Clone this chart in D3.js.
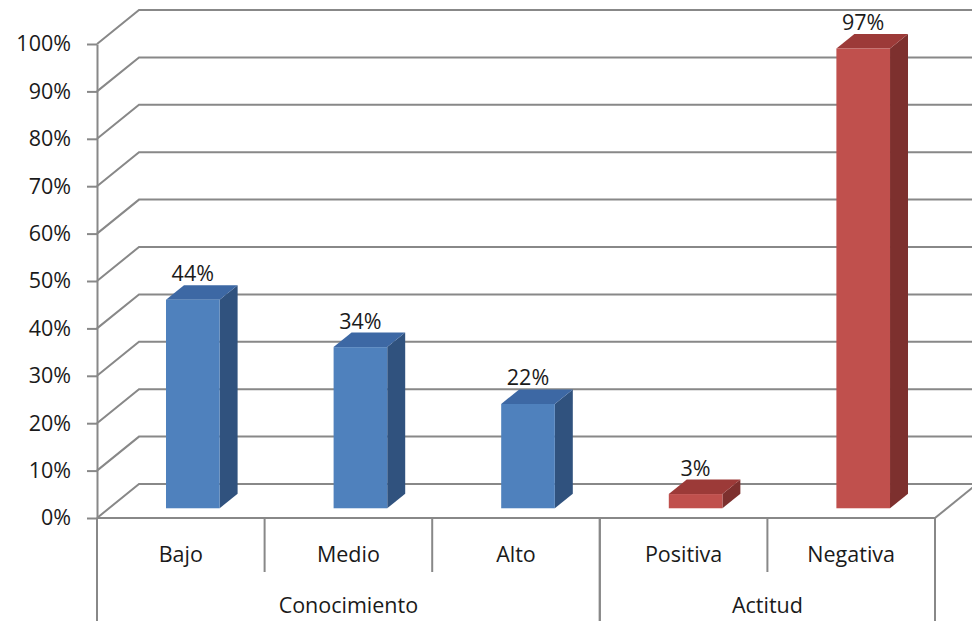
<!DOCTYPE html>
<html>
<head>
<meta charset="utf-8">
<script src="https://cdn.jsdelivr.net/npm/d3@7"></script>
<style>
  html, body { margin: 0; padding: 0; background: #fff; }
  svg { display: block; }
  text { font-family: "Open Sans", "Liberation Sans", sans-serif; fill: #1a1a1a; }
</style>
</head>
<body>
<svg id="chart" width="972" height="621"></svg>
<script>
// Survey results: knowledge level and attitude
const categories = ["Bajo", "Medio", "Alto", "Positiva", "Negativa"];
const groupNames = ["Conocimiento", "Actitud"];
const groupOfCategory = [0, 0, 0, 1, 1];
const values = [0.44, 0.34, 0.22, 0.03, 0.97];
const yTicks = [0, 0.1, 0.2, 0.3, 0.4, 0.5, 0.6, 0.7, 0.8, 0.9, 1.0];

// face colours per group: front, side, top
const palette = [
  { front: "#4F81BD", side: "#30527E", top: "#3D68A4" },
  { front: "#C0504D", side: "#7D302E", top: "#9C3A38" }
];

(function () {
  const svg = d3.select("#chart");
  const H = 621;
  const fontSize = 21.5;

  // plot frame (front plane) and oblique depth
  const plotLeft = 97, plotRight = 935, plotBottom = 518, plotTop = 44;
  const depthX = 42, depthY = 34;
  const gridColor = "#888888";

  const x = d3.scaleBand().domain(categories).range([plotLeft, plotRight]).paddingInner(0).paddingOuter(0);
  const y = d3.scaleLinear().domain([0, 1]).range([plotBottom, plotTop]);

  // projection of a depth fraction onto screen offset
  const dOff = f => [depthX * f, -depthY * f];

  // gridlines: diagonal along the side wall, then across the back wall
  const grid = svg.append("g").attr("fill", "none").attr("stroke", gridColor).attr("stroke-width", 2);
  const [bx, by] = dOff(1);
  yTicks.forEach(t => {
    grid.append("path")
      .attr("d", `M${plotLeft},${y(t)} L${plotLeft + bx},${y(t) + by} L${plotRight + bx},${y(t) + by}`);
  });

  // floor: front edge and right edge
  grid.append("path").attr("d", `M${plotLeft},${plotBottom} L${plotRight},${plotBottom}`);
  grid.append("path").attr("d", `M${plotRight},${plotBottom} L${plotRight + bx},${plotBottom + by}`);

  // value axis
  const yAxis = d3.axisLeft(y)
    .tickValues(yTicks)
    .tickFormat(d3.format(".0%"))
    .tickSize(10)
    .tickSizeOuter(0)
    .tickPadding(16);
  const yAxisG = svg.append("g").attr("transform", `translate(${plotLeft},0)`).call(yAxis);
  yAxisG.select(".domain").attr("stroke", gridColor).attr("stroke-width", 2);
  yAxisG.selectAll(".tick line").attr("stroke", gridColor).attr("stroke-width", 2);
  yAxisG.selectAll(".tick text")
    .attr("font-size", fontSize)
    .attr("font-family", "'Open Sans', 'Liberation Sans', sans-serif")
    .attr("fill", "#1a1a1a");

  // bars
  const barFrac = 0.32;
  const f1 = 0.286, f2 = 0.714;
  const bars = svg.append("g");
  categories.forEach((c, i) => {
    const col = palette[groupOfCategory[i]];
    const bw = x.bandwidth() * barFrac;
    const [ox, oy] = dOff(f1);
    const [ex, ey] = dOff(f2 - f1);
    const cx = x(c) + x.bandwidth() / 2 + ox;
    const x0 = cx - bw / 2, x1 = cx + bw / 2;
    const yb = y(0) + oy, yt = y(values[i]) + oy;

    bars.append("path").attr("fill", col.side)
      .attr("d", `M${x1},${yb} L${x1 + ex},${yb + ey} L${x1 + ex},${yt + ey} L${x1},${yt} Z`);
    bars.append("path").attr("fill", col.top)
      .attr("d", `M${x0},${yt} L${x0 + ex},${yt + ey} L${x1 + ex},${yt + ey} L${x1},${yt} Z`);
    bars.append("rect").attr("fill", col.front)
      .attr("x", x0).attr("y", yt).attr("width", bw).attr("height", yb - yt);

    bars.append("text")
      .attr("x", cx).attr("y", yt + ey - 4)
      .attr("text-anchor", "middle")
      .attr("font-size", fontSize)
      .text(d3.format(".0%")(values[i]));
  });

  // category axis below the floor
  const cat = svg.append("g");
  const lines = cat.append("g").attr("stroke", gridColor).attr("stroke-width", 2);
  categories.forEach((c, i) => {
    cat.append("text")
      .attr("x", x(c) + x.bandwidth() / 2).attr("y", 562)
      .attr("text-anchor", "middle").attr("font-size", fontSize)
      .text(c);
    if (i > 0 && groupOfCategory[i] === groupOfCategory[i - 1]) {
      lines.append("line").attr("x1", x(c)).attr("x2", x(c)).attr("y1", plotBottom).attr("y2", 572);
    }
  });

  // group boundaries and labels
  groupNames.forEach((g, gi) => {
    const members = categories.filter((c, i) => groupOfCategory[i] === gi);
    const gx0 = x(members[0]);
    const gx1 = x(members[members.length - 1]) + x.bandwidth();
    lines.append("line").attr("x1", gx0).attr("x2", gx0).attr("y1", plotBottom).attr("y2", H);
    lines.append("line").attr("x1", gx1).attr("x2", gx1).attr("y1", plotBottom).attr("y2", H);
    cat.append("text")
      .attr("x", (gx0 + gx1) / 2).attr("y", 613)
      .attr("text-anchor", "middle").attr("font-size", fontSize)
      .text(g);
  });
})();
</script>
</body>
</html>
